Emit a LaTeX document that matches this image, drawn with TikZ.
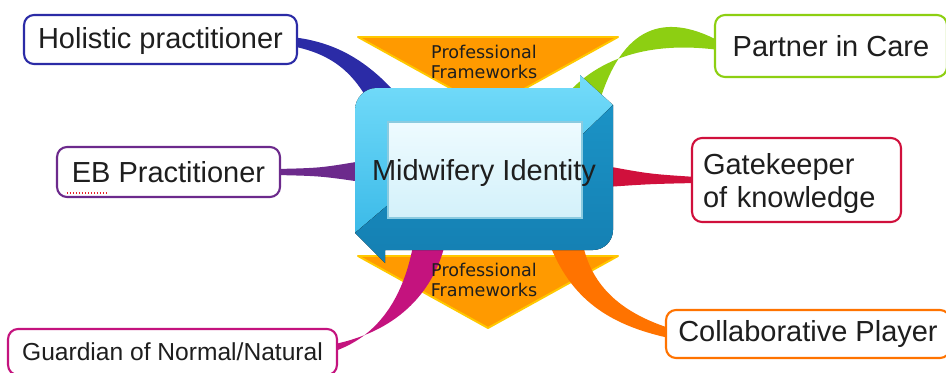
\documentclass[tikz,border=0pt]{standalone}
\usepackage{fontspec}
\setmainfont{Liberation Sans}
\newfontfamily\pffont{DejaVu Sans}
\usetikzlibrary{calc, backgrounds}
\definecolor{inkcol}{HTML}{1E1E1E}
\definecolor{holcol}{HTML}{2B2BA6}
\definecolor{partcol}{HTML}{8DCF12}
\definecolor{ebcol}{HTML}{6C2A8C}
\definecolor{gatecol}{HTML}{D0103C}
\definecolor{colcol}{HTML}{FF7300}
\definecolor{guardcol}{HTML}{C4137E}
\definecolor{pforange}{HTML}{FF9A00}
\definecolor{pfyellow}{HTML}{FFC800}
\definecolor{spellred}{HTML}{E8202A}
\definecolor{rimlight}{HTML}{74DCFA}
\definecolor{rimmid}{HTML}{3BBAE8}
\definecolor{rimdark}{HTML}{1B93C6}
\definecolor{rimdeep}{HTML}{147FB2}
\definecolor{panelhi}{HTML}{EEFBFF}
\definecolor{panello}{HTML}{D3F1FA}
\definecolor{paneledge}{HTML}{8ACBE0}
\tikzset{
  rolebox/.style={draw, fill=white, rounded corners=0.2cm, line width=1.2pt, text=inkcol, inner sep=0pt, font=\fontsize{16.5}{17.6}\selectfont},
  pftext/.style={align=center, text=inkcol, inner sep=0pt, font=\pffont\fontsize{10}{11.4}\selectfont},
  frametri/.style={fill=pforange, draw=pfyellow, line width=1.1pt, line join=round},
  coretext/.style={text=inkcol, inner sep=0pt, font=\fontsize{16.5}{19}\selectfont},
}
\begin{document}
\begin{tikzpicture}[x=0.02cm, y=-0.02cm]
  \useasboundingbox (0,0) rectangle (946,372);
  % outer roles
  \node[rolebox, draw=holcol, minimum width=5.46cm, minimum height=0.98cm] (hol) at (160.5,39.5) {\rule{0pt}{14pt}Holistic practitioner};
  \node[rolebox, draw=partcol, minimum width=4.64cm, minimum height=1.24cm] (partner) at (831,46) {Partner in Care};
  \node[rolebox, draw=ebcol, minimum width=4.46cm, minimum height=1cm] (eb) at (168.5,172) {EB Practitioner};
  \node[rolebox, draw=gatecol, minimum width=4.18cm, minimum height=1.68cm, text width=3.74cm, align=left,
        font=\fontsize{16.5}{18.3}\selectfont] (gate) at (796.5,180) {\rule{0pt}{16pt}Gatekeeper\\of knowledge};
  \node[rolebox, draw=colcol, minimum width=5.68cm, minimum height=0.96cm] (collab) at (808,334) {Collaborative Player};
  \node[rolebox, draw=guardcol, minimum width=6.58cm, minimum height=0.92cm, font=\fontsize{14}{16}\selectfont] (guard) at (172.5,352) {Guardian of Normal/Natural};
  % centre and frameworks
  \node[coretext] (core) at (484,173) {Midwifery Identity};
  \node[pftext] (pftop) at (484,62) {Professional\\Frameworks};
  \node[pftext] (pfbot) at (484,280) {Professional\\Frameworks};
  \draw[spellred, densely dotted, line width=0.7pt] ($(eb.west)+(11,21)$) -- ($(eb.west)+(51,21)$);

  \begin{scope}[on background layer]
    \filldraw[frametri] (358,37) -- (618,37) -- (488,109) -- cycle;
    \filldraw[frametri] (358,256) -- (618,256) -- (488,328) -- cycle;
    % branches, thin at the role, wide at the centre
    \fill[holcol] ($(hol.east)+(-7,-2.5)$) .. controls (340,42) and (372,65) .. (402,100)
      -- (370,104) .. controls (355,76) and (335,54) .. ($(hol.east)+(-7,6.5)$) -- cycle;
    \fill[partcol] ($(partner.west)+(5,-5)$) .. controls (670,15) and (625,20) .. (600,100)
      -- (562,100) .. controls (600,52) and (660,42) .. ($(partner.west)+(5,4)$) -- cycle;
    \fill[ebcol] ($(eb.east)+(-5,-3)$) .. controls (320,168) .. (362,161)
      -- (362,182) .. controls (320,176) .. ($(eb.east)+(-5,3)$) -- cycle;
    \fill[gatecol] ($(gate.west)+(5,-3)$) .. controls (650,174) .. (606,166)
      -- (606,187) .. controls (650,184) .. ($(gate.west)+(5,3)$) -- cycle;
    \fill[colcol] (548,240) .. controls (570,300) and (610,325) .. ($(collab.west)+(4,4)$)
      -- ($(collab.west)+(4,-6)$) .. controls (620,312) and (590,285) .. (582,240) -- cycle;
    \fill[guardcol] (414,240) .. controls (405,295) and (380,335) .. ($(guard.east)+(-3,-1)$)
      -- ($(guard.east)+(-3,-8)$) .. controls (400,330) and (435,290) .. (446,240) -- cycle;
    % cycle frame round the centre
    \fill[top color=rimlight, bottom color=rimmid] (355,233) -- (355,150) [rounded corners=0.44cm] -- (355,88) -- (450,88) [sharp corners]
      -- (580,88) -- (580,75) -- (613,105) -- (582,135) -- (582,122) -- (388,122) -- (388,205) -- cycle;
    \fill[top color=rimdark, bottom color=rimdeep] (613,105) -- (613,180) [rounded corners=0.4cm] -- (613,250) -- (500,250) [sharp corners]
      -- (385,250) -- (385,263) -- (355,233) -- (388,205) -- (388,218) -- (582,218) -- (582,135) -- cycle;
    \filldraw[top color=panelhi, bottom color=panello, draw=paneledge, line width=0.8pt] (388,122) rectangle (582,218);
  \end{scope}
\end{tikzpicture}
\end{document}
